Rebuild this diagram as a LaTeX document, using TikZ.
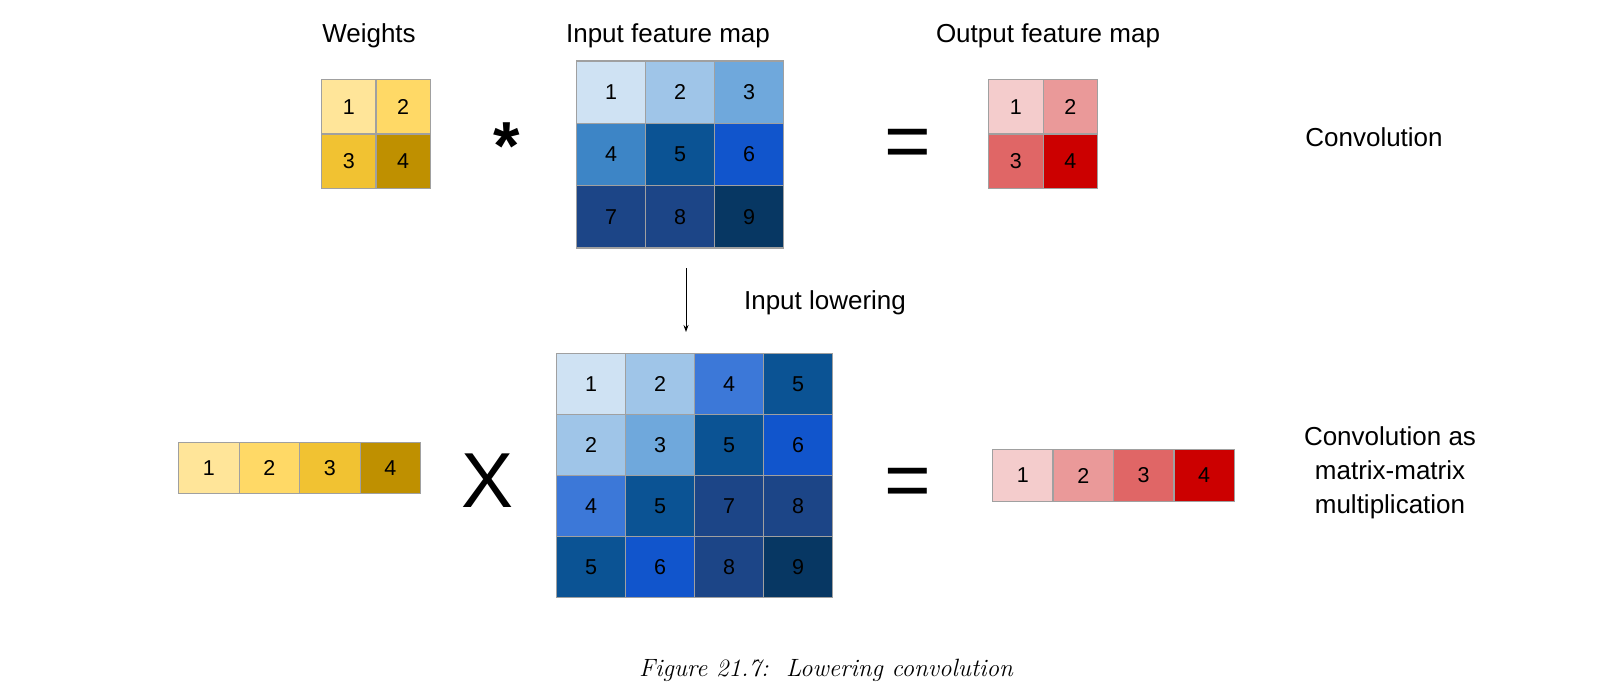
\documentclass[tikz,border=0pt]{standalone}
\usepackage{fontspec}
\newfontfamily\arial{Liberation Sans}
\usetikzlibrary{arrows.meta}
\definecolor{gridgray}{RGB}{160,160,160}
\definecolor{ya}{HTML}{FFE599}
\definecolor{yb}{HTML}{FFD966}
\definecolor{yc}{HTML}{F1C232}
\definecolor{yd}{HTML}{BF9000}
\definecolor{ra}{HTML}{F4CCCC}
\definecolor{rb}{HTML}{EA9999}
\definecolor{rc}{HTML}{E06666}
\definecolor{rd}{HTML}{CC0000}
\definecolor{bA}{HTML}{CFE2F3}
\definecolor{bB}{HTML}{9FC5E8}
\definecolor{bC}{HTML}{6FA8DC}
\definecolor{bD}{HTML}{3D85C6}
\definecolor{bDD}{HTML}{3C78D8}
\definecolor{bE}{HTML}{0B5394}
\definecolor{bF}{HTML}{1155CC}
\definecolor{bG}{HTML}{1C4587}
\definecolor{bH}{HTML}{1C4587}
\definecolor{bI}{HTML}{073763}
\begin{document}
\begin{tikzpicture}[x=1pt,y=-1pt,
  cell/.style={draw=gridgray, line width=1.4pt, inner sep=0pt, anchor=north west,
    font=\arial\fontsize{21.5}{21.5}\selectfont, text=black},
  lbl/.style={font=\arial\fontsize{26}{34}\selectfont, anchor=base, inner sep=0pt, align=center},
  big/.style={anchor=base, inner sep=0pt}]
\useasboundingbox (0,0) rectangle (1603,695);
% labels
\node[lbl] (tw) at (369,43) {Weights};
\node[lbl] (ti) at (668,43) {Input feature map};
\node[lbl] (to) at (1048,43) {Output feature map};
\node[lbl] (tc) at (1374,147) {Convolution};
\node[lbl, anchor=north] (tm) at (1390,426) {Convolution as\\matrix-matrix\\multiplication};
\node[lbl] (tl) at (825,309) {Input lowering};
% weights 2x2
\foreach \n/\cc/\cl/\rw in {1/ya/0/0, 2/yb/1/0, 3/yc/0/1, 4/yd/1/1}
  \node[cell, fill=\cc, minimum width=54.3pt, minimum height=54.5pt] (w\n) at ({321+\cl*54.3},{79+\rw*54.5}) {\n};
% input feature map 3x3
\foreach \n/\cc/\cl/\rw in {1/bA/0/0, 2/bB/1/0, 3/bC/2/0, 4/bD/0/1, 5/bE/1/1, 6/bF/2/1, 7/bG/0/2, 8/bH/1/2, 9/bI/2/2}
  \node[cell, fill=\cc, minimum width=69pt, minimum height=62.2pt] (i\n) at ({576+\cl*69},{60.5+\rw*62.2}) {\n};
% output feature map 2x2
\foreach \n/\cc/\cl/\rw in {1/ra/0/0, 2/rb/1/0, 3/rc/0/1, 4/rd/1/1}
  \node[cell, fill=\cc, minimum width=54.5pt, minimum height=54.5pt] (o\n) at ({988+\cl*54.5},{79+\rw*54.5}) {\n};
% lowered weights 1x4
\foreach \n/\cc in {1/ya, 2/yb, 3/yc, 4/yd}
  \node[cell, fill=\cc, minimum width=60.5pt, minimum height=51pt] (lw\n) at ({178+(\n-1)*60.5},442) {\n};
% lowered input 4x4
\foreach \v/\cc/\cl/\rw in {1/bA/0/0, 2/bB/1/0, 4/bDD/2/0, 5/bE/3/0,
                            2/bB/0/1, 3/bC/1/1, 5/bE/2/1, 6/bF/3/1,
                            4/bDD/0/2, 5/bE/1/2, 7/bG/2/2, 8/bH/3/2,
                            5/bE/0/3, 6/bF/1/3, 8/bH/2/3, 9/bI/3/3}
  \node[cell, fill=\cc, minimum width=69pt, minimum height=61pt] (m\rw\cl) at ({556+\cl*69},{353+\rw*61}) {\v};
% lowered output 1x4
\foreach \n/\cc in {1/ra, 2/rb, 3/rc, 4/rd}
  \node[cell, fill=\cc, minimum width=60.4pt, minimum height=51.7pt] (lo\n) at ({992+(\n-1)*60.4},449) {\n};
% operators
\node[big, font=\arial\bfseries\fontsize{68}{68}\selectfont] (ast) at (507,170) {*};
\node[big, font=\arial\fontsize{80}{80}\selectfont] (eq1) at (908,169) {=};
\node[big, font=\arial\fontsize{78}{78}\selectfont] (mx) at (488,507) {X};
\node[big, font=\arial\fontsize{80}{80}\selectfont] (eq2) at (908,507) {=};
% arrow
\coordinate (a1) at (686,268);
\coordinate (a2) at (686,332);
\draw[line width=1pt, -{Stealth[length=7pt,width=5pt]}] (a1) -- (a2);
% caption
\node[anchor=base, inner sep=0pt, font=\fontsize{25}{25}\selectfont\itshape] (cap) at (826,676) {Figure 21.7:\ \ Lowering convolution};
\end{tikzpicture}
\end{document}
